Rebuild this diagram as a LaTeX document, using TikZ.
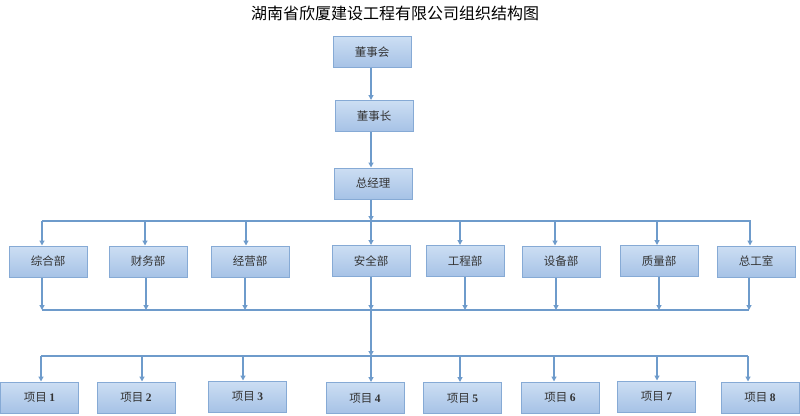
\documentclass[tikz,border=0pt]{standalone}
\usepackage{fontspec}
\newfontfamily\cjk{Noto Sans CJK SC}
\newfontfamily\numf{Liberation Serif}
\usetikzlibrary{arrows.meta}
\definecolor{lnc}{HTML}{6E9BCB}
\definecolor{bdc}{HTML}{86AAD5}
\definecolor{topc}{HTML}{CCDEF3}
\definecolor{botc}{HTML}{A6C2E6}
\definecolor{txc}{HTML}{333333}
\begin{document}
\begin{tikzpicture}[x=1pt,y=-1pt,
  box/.style={draw=bdc,line width=1pt,top color=topc,bottom color=botc,
    minimum width=78pt,minimum height=31pt,inner sep=0pt,
    font=\cjk\fontsize{11.5}{13}\selectfont,text=txc},
  arr/.style={draw=lnc,line width=1.2pt,-{Triangle[length=5pt,width=5pt]}},
  ln/.style={draw=lnc,line width=1.2pt}]
\useasboundingbox (0,0) rectangle (800,415);
\node[font=\cjk\fontsize{16}{19}\selectfont,text=black] (title) at (395,13) {湖南省欣厦建设工程有限公司组织结构图};
% top chain
\node[box] (c1) at (372,52) {董事会};
\node[box] (c2) at (374,116) {董事长};
\node[box] (c3) at (373,183.5) {总经理};
% departments
\node[box] (d1) at (48,261.5) {综合部};
\node[box] (d2) at (148,261.5) {财务部};
\node[box] (d3) at (250,261.5) {经营部};
\node[box] (d4) at (371,261) {安全部};
\node[box] (d5) at (465,261) {工程部};
\node[box] (d6) at (561,261.5) {设备部};
\node[box] (d7) at (659,261) {质量部};
\node[box] (d8) at (756,261.5) {总工室};
% projects
\node[box] (p1) at (39.5,397.5) {项目 {\numf\bfseries 1}};
\node[box] (p2) at (136,397.5) {项目 {\numf\bfseries 2}};
\node[box] (p3) at (247.5,396.5) {项目 {\numf\bfseries 3}};
\node[box] (p4) at (365,398) {项目 {\numf\bfseries 4}};
\node[box] (p5) at (462.5,398) {项目 {\numf\bfseries 5}};
\node[box] (p6) at (560,397.5) {项目 {\numf\bfseries 6}};
\node[box] (p7) at (656.5,396.5) {项目 {\numf\bfseries 7}};
\node[box] (p8) at (760,397.5) {项目 {\numf\bfseries 8}};
% bus coordinates
\coordinate (tbL) at (42,221);
\coordinate (tbR) at (751,221);
\coordinate (bbL) at (42,310);
\coordinate (bbR) at (749,310);
\coordinate (pbL) at (41,356);
\coordinate (pbR) at (748,356);
\draw[ln] (tbL) -- (tbR);
\draw[ln] (bbL) -- (bbR);
\draw[ln] (pbL) -- (pbR);
% main chain
\path (c1.south) ++(-1,0) coordinate (c1-b);
\draw[arr] (c1-b) -- (c1-b |- c2.north);
\draw[arr] (c1-b |- c2.south) -- (c1-b |- c3.north);
\draw[arr] (c1-b |- c3.south) -- (c1-b |- tbL);
% department drops from top bus
\foreach \n/\s in {d1/-6,d2/-3,d3/-4,d4/0,d5/-5,d6/-6,d7/-2,d8/-6}{
  \path (\n.north) ++(\s,0) coordinate (\n-t);
  \draw[arr] (\n-t |- tbL) -- (\n-t);
}
% department arrows to bottom bus
\foreach \n/\s in {d1/-6,d2/-2,d3/-5,d4/0,d5/0,d6/-5,d7/0,d8/-7}{
  \path (\n.south) ++(\s,0) coordinate (\n-b);
  \draw[arr] (\n-b) -- (\n-b |- bbL);
}
% bottom bus to project bus
\draw[arr] (d4-b |- bbL) -- (d4-b |- pbL);
% project drops
\foreach \n/\s in {p1/1.5,p2/6,p3/-4.5,p4/6,p5/-2.5,p6/-6,p7/0.5,p8/-12}{
  \path (\n.north) ++(\s,0) coordinate (\n-t);
  \draw[arr] (\n-t |- pbL) -- (\n-t);
}
\end{tikzpicture}
\end{document}
